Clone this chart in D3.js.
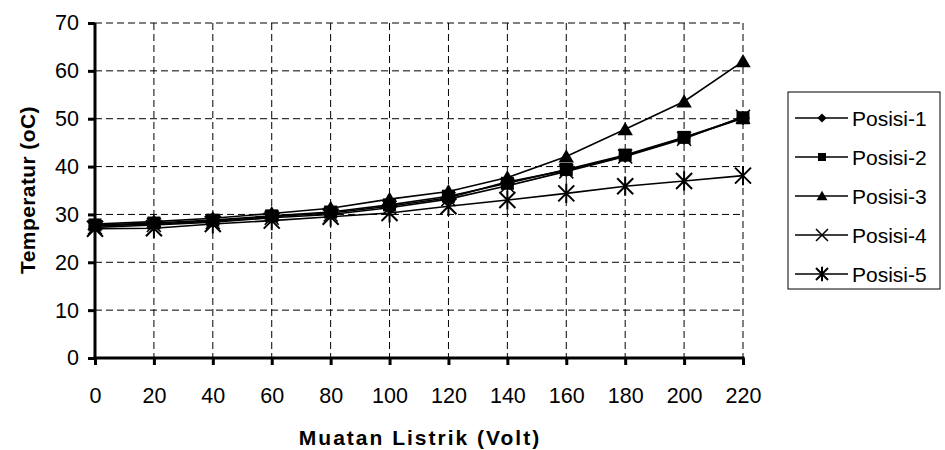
<!DOCTYPE html>
<html><head><meta charset="utf-8">
<script src="https://cdn.jsdelivr.net/npm/d3@7"></script>
<style>body{margin:0;background:#fff;} svg{display:block;font-family:"Liberation Sans",Arial,sans-serif;}</style>
</head><body><svg id="c" width="945" height="450"></svg>
<script>
const voltages = [0,20,40,60,80,100,120,140,160,180,200,220];
const seriesNames = ["Posisi-1","Posisi-2","Posisi-3","Posisi-4","Posisi-5"];
const posisi1 = [27.6,28.0,28.6,29.5,30.3,31.7,33.5,36.8,39.2,42.2,46.0,50.1];
const posisi2 = [27.8,28.2,28.8,29.7,30.5,32.0,33.8,36.5,39.4,42.4,46.1,50.2];
const posisi3 = [28.0,28.5,29.2,30.2,31.3,33.2,34.8,37.7,42.1,47.8,53.6,62.0];
const posisi4 = [27.3,27.8,28.4,29.3,30.0,31.4,33.2,36.0,39.0,42.1,45.8,50.4];
const posisi5 = [27.0,27.1,28.0,28.7,29.5,30.3,31.7,33.0,34.4,35.9,37.0,38.1];
const yTicks = [0,10,20,30,40,50,60,70];
const xTitle = "Muatan Listrik (Volt)";
const yTitle = "Temperatur (oC)";

const allSeries = [posisi1,posisi2,posisi3,posisi4,posisi5];
const markerTypes = ["diamond","square","triangle","x","star"];

const svg = d3.select("#c");
const L=95,R=743,T=23,B=358;
const FONT = "Liberation Sans, Arial, sans-serif";
const x = d3.scaleLinear().domain([0,220]).range([L,R]);
const y = d3.scaleLinear().domain([0,70]).range([B,T]);

// grid
const g = svg.append("g");
g.selectAll("line.h").data(yTicks.filter(d=>d>0)).enter().append("line")
 .attr("x1",L).attr("x2",R).attr("y1",d=>y(d)).attr("y2",d=>y(d))
 .attr("stroke","#000").attr("stroke-width",1).attr("stroke-dasharray","7,4");
g.selectAll("line.v").data(voltages.filter(d=>d>0)).enter().append("line")
 .attr("y1",T).attr("y2",B).attr("x1",d=>x(d)).attr("x2",d=>x(d))
 .attr("stroke","#000").attr("stroke-width",1).attr("stroke-dasharray","7,4");

// axes
const xAxis = svg.append("g").attr("transform",`translate(0,${B})`)
 .call(d3.axisBottom(x).tickValues(voltages).tickSize(7).tickPadding(23).tickFormat(d3.format("d")));
const yAxis = svg.append("g").attr("transform",`translate(${L},0)`)
 .call(d3.axisLeft(y).tickValues(yTicks).tickSize(7).tickPadding(9).tickFormat(d3.format("d")));
[xAxis,yAxis].forEach(a=>{
  a.attr("font-size",21.5).attr("font-family",FONT);
  a.select(".domain").attr("stroke","#000").attr("stroke-width",3);
  a.selectAll(".tick line").attr("stroke","#000").attr("stroke-width",3);
  a.selectAll(".tick text").attr("fill","#000");
});
xAxis.select(".domain").attr("d",`M${L-1.5},0H${R+1.5}`);
yAxis.select(".domain").attr("d",`M0,${T}V${B+1.5}`);

function marker(sel, type, s){
  const h=s/2;
  if(type==="diamond") sel.append("path").attr("d",`M0,${-h*1.15}L${h*1.15},0L0,${h*1.15}L${-h*1.15},0Z`).attr("fill","#000");
  else if(type==="square") sel.append("rect").attr("x",-h).attr("y",-h).attr("width",s).attr("height",s).attr("fill","#000");
  else if(type==="triangle") sel.append("path").attr("d",`M0,${-h*1.05}L${h*1.1},${h*0.85}L${-h*1.1},${h*0.85}Z`).attr("fill","#000");
  else if(type==="x") sel.append("path").attr("d",`M${-h},${-h}L${h},${h}M${-h},${h}L${h},${-h}`).attr("stroke","#000").attr("stroke-width",1.5).attr("fill","none");
  else if(type==="star") sel.append("path").attr("d",`M${-h},${-h}L${h},${h}M${-h},${h}L${h},${-h}M0,${-h*1.2}V${h*1.2}`).attr("stroke","#000").attr("stroke-width",2).attr("fill","none");
}

const line = d3.line().x((d,i)=>x(voltages[i])).y(d=>y(d));
allSeries.forEach((s,k)=>{
  svg.append("path").attr("d",line(s)).attr("fill","none").attr("stroke","#000").attr("stroke-width",1.6);
});
allSeries.forEach((s,k)=>{
  const sizes=[12,13,14,14,16];
  s.forEach((v,i)=>{
    const m = svg.append("g").attr("transform",`translate(${x(voltages[i])},${y(v)})`);
    marker(m, markerTypes[k], sizes[k]);
  });
});

// axis titles
svg.append("text").attr("x",420).attr("y",445).attr("text-anchor","middle")
 .attr("font-size",21).attr("font-weight","bold").attr("letter-spacing",2).attr("font-family",FONT).text(xTitle);
svg.append("text").attr("transform","translate(35,190) rotate(-90)").attr("text-anchor","middle")
 .attr("font-size",21).attr("font-weight","bold").attr("letter-spacing",0.4).attr("font-family",FONT).text(yTitle);

// legend
const lg = svg.append("g");
lg.append("rect").attr("x",788).attr("y",92).attr("width",152).attr("height",197)
 .attr("fill","#fff").attr("stroke","#000").attr("stroke-width",1);
seriesNames.forEach((n,k)=>{
  const yy = 118 + k*39;
  lg.append("line").attr("x1",795).attr("x2",848).attr("y1",yy).attr("y2",yy).attr("stroke","#000").attr("stroke-width",1.5);
  const m = lg.append("g").attr("transform",`translate(822,${yy})`);
  marker(m, markerTypes[k], [8,8,10,12,12][k]);
  lg.append("text").attr("x",852).attr("y",yy+7.5).attr("font-size",21).attr("font-family",FONT).text(n);
});
</script></body></html>
